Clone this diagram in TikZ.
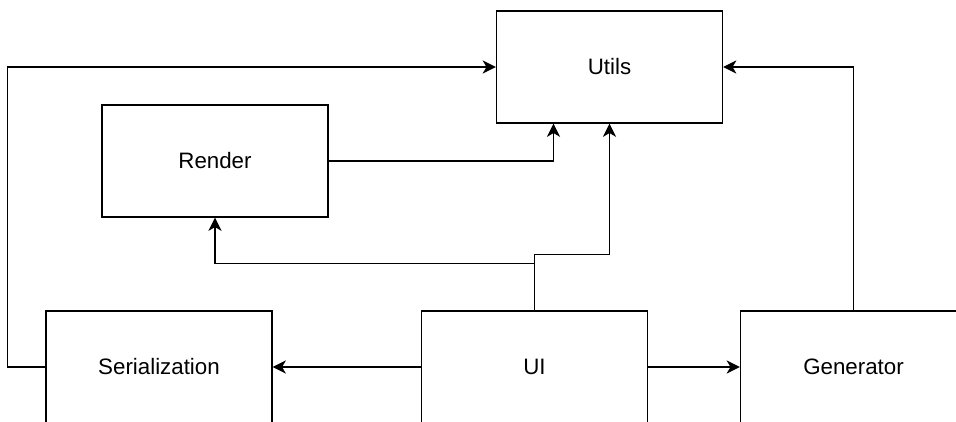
\documentclass[tikz,border=0pt]{standalone}
\usepackage{fontspec}
\setmainfont{Liberation Sans}
\usetikzlibrary{arrows.meta}

\begin{document}
\begin{tikzpicture}[
    box/.style={draw, line width=0.8pt, minimum width=4.52cm, minimum height=2.24cm, inner sep=0pt, font=\fontsize{12.7}{15}\selectfont},
    arr/.style={draw, line width=0.8pt, -{Stealth[length=7.5pt, width=7.5pt, inset=2.2pt]}}
  ]
          \useasboundingbox (0,0) rectangle (19.12,-8.42);
          \clip (0,0) rectangle (19.12,-8.42);

          \node[box] (utils) at (12.19,-1.34) {Utils};
          \node[box] (render) at (4.30,-3.22) {Render};

          \node[box] (serial) at (3.18,-7.34) {Serialization};
          \node[box] (ui) at (10.69,-7.34) {UI};
          \node[box] (gen) at (17.07,-7.34) {Generator};

          \draw[arr] (render.east) -| ([xshift=-1.12cm]utils.south);
          \draw[arr] (ui.north) -- ++(0,1.12) -| (utils.south);
          \draw[arr] (ui.north) -- ++(0,0.94) -| (render.south);

          \draw[arr] (ui.west) -- (serial.east);
          \draw[arr] (ui.east) -- (gen.west);

          \draw[arr] (serial.west) -- ++(-0.76,0) |- (utils.west);
          \draw[arr] (gen.north) |- (utils.east);
        \end{tikzpicture}
\end{document}
